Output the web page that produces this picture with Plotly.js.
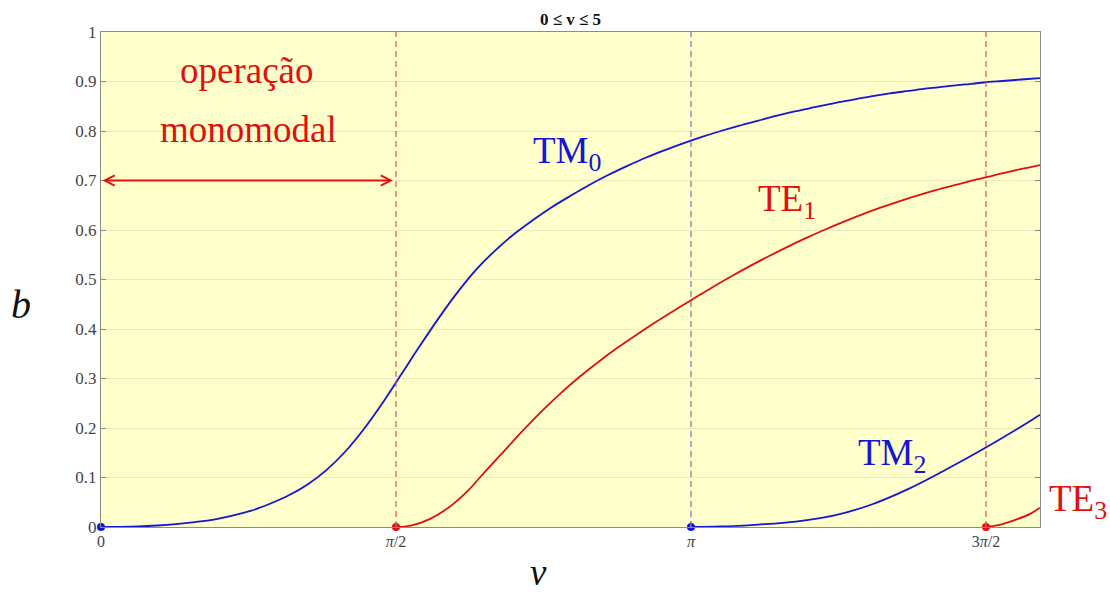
<!DOCTYPE html>
<html>
<head>
<meta charset="utf-8">
<script src="https://cdn.plot.ly/plotly-3.0.1.min.js"></script>
<style>
  html, body { margin: 0; padding: 0; background: #fff; }
  #chart { width: 1110px; height: 595px; }
</style>
</head>
<body>
<div id="chart"></div>
<script>
// Normalized propagation constant b versus normalized frequency v (slab guide modes)
const PI = Math.PI;

// Cutoff frequencies of the modes (also the x tick positions)
const cutoffs = [0, PI / 2, PI, 3 * PI / 2];
const cutoffLabels = ['0', '<i>π</i>/2', '<i>π</i>', '3<i>π</i>/2'];
const cutoffColors = ['#1515d6', '#e01010', '#1515d6', '#e01010'];

// TM0 mode
const tm0V = [0, 0.1, 0.2, 0.3, 0.4, 0.5, 0.6, 0.7, 0.8, 0.9, 1.0, 1.1, 1.2, 1.3, 1.4, 1.5, 1.6, 1.7, 1.8, 1.9, 2.0,
              2.1, 2.2, 2.3, 2.4, 2.5, 2.6, 2.7, 2.8, 2.9, 3.0, 3.1, 3.2, 3.3, 3.4, 3.5, 3.6, 3.7, 3.8, 3.9, 4.0,
              4.1, 4.2, 4.3, 4.4, 4.5, 4.6, 4.7, 4.8, 4.9, 5.0];
const tm0B = [0, 0.0002, 0.001, 0.003, 0.006, 0.010, 0.015, 0.023, 0.033, 0.047, 0.064, 0.086, 0.115, 0.152, 0.198, 0.251, 0.309, 0.367, 0.423, 0.475, 0.521,
              0.559, 0.592, 0.620, 0.646, 0.669, 0.691, 0.711, 0.729, 0.746, 0.761, 0.775, 0.788, 0.800, 0.811, 0.821, 0.831, 0.840, 0.848, 0.856, 0.863,
              0.870, 0.876, 0.881, 0.886, 0.890, 0.894, 0.898, 0.901, 0.904, 0.907];

// TE1 mode
const te1V = [1.5708, 1.65, 1.75, 1.85, 1.95, 2.05, 2.15, 2.25, 2.35, 2.45, 2.55, 2.65, 2.75, 2.85, 2.95, 3.05, 3.15, 3.25,
              3.35, 3.45, 3.55, 3.65, 3.75, 3.85, 3.95, 4.05, 4.15, 4.25, 4.35, 4.45, 4.55, 4.65, 4.75, 4.85, 4.95, 5.0];
const te1B = [0, 0.003, 0.016, 0.039, 0.072, 0.114, 0.155, 0.196, 0.235, 0.271, 0.304, 0.334, 0.362, 0.388, 0.413, 0.437, 0.460, 0.483,
              0.505, 0.526, 0.546, 0.565, 0.583, 0.600, 0.616, 0.631, 0.645, 0.658, 0.670, 0.681, 0.691, 0.701, 0.710, 0.719, 0.727, 0.731];

// TM2 mode
const tm2V = [3.1416, 3.3, 3.5, 3.7, 3.9, 4.1, 4.3, 4.5, 4.7, 4.9, 5.0];
const tm2B = [0, 0.001, 0.005, 0.011, 0.023, 0.045, 0.077, 0.116, 0.158, 0.203, 0.227];

// TE3 mode
const te3V = [4.712, 4.79, 4.88, 4.95, 5.0];
const te3B = [0, 0.005, 0.016, 0.027, 0.039];

// y tick labels
const yTicks = [0, 0.1, 0.2, 0.3, 0.4, 0.5, 0.6, 0.7, 0.8, 0.9, 1];
const yTickText = ['0', '0.1', '0.2', '0.3', '0.4', '0.5', '0.6', '0.7', '0.8', '0.9', '1'];

// Single-mode region marker height
const singleModeB = 0.7;

const BLUE = '#1515d6';
const RED = '#e01010';
const SERIF = 'Liberation Serif, Times New Roman, serif';

function curve(x, y, color) {
  return {
    x: x, y: y, type: 'scatter', mode: 'lines',
    line: { color: color, width: 1.8, shape: 'spline', smoothing: 1 },
    hoverinfo: 'skip', showlegend: false
  };
}

const traces = [
  curve(tm0V, tm0B, BLUE),
  curve(te1V, te1B, RED),
  curve(tm2V, tm2B, BLUE),
  curve(te3V, te3B, RED),
  {
    x: cutoffs, y: cutoffs.map(() => 0), type: 'scatter', mode: 'markers',
    marker: { color: cutoffColors, size: 8 },
    cliponaxis: false, hoverinfo: 'skip', showlegend: false
  }
];

// Dashed verticals at the cutoffs of TE1, TM2 and TE3
const dashColors = ['rgba(225,70,70,0.9)', 'rgba(110,110,175,0.95)', 'rgba(225,70,70,0.9)'];
const shapes = cutoffs.slice(1).map((c, i) => ({
  type: 'line', xref: 'x', yref: 'y', x0: c, x1: c, y0: 0, y1: 1,
  line: { color: dashColors[i], width: 1.2, dash: '6px,4px' }
}));

const labelFont = (color) => ({ family: SERIF, size: 37, color: color });

const annotations = [
  // double arrow marking the single-mode band
  {
    x: cutoffs[1], y: singleModeB, ax: cutoffs[0], ay: singleModeB,
    xref: 'x', yref: 'y', axref: 'x', ayref: 'y',
    text: '', showarrow: true, arrowside: 'end+start',
    arrowhead: 5, arrowsize: 1.1, arrowwidth: 1.8, arrowcolor: RED,
    standoff: 3, startstandoff: 0
  },
  { x: 0.778, y: 0.922, xref: 'x', yref: 'y', text: 'operação', showarrow: false, font: labelFont(RED) },
  { x: 0.785, y: 0.803, xref: 'x', yref: 'y', text: 'monomodal', showarrow: false, font: labelFont(RED) },
  { x: 2.29, y: 0.754, xref: 'x', yref: 'y', xanchor: 'left', yanchor: 'middle', text: 'TM<sub>0</sub>', showarrow: false, font: labelFont(BLUE) },
  { x: 3.486, y: 0.657, xref: 'x', yref: 'y', xanchor: 'left', yanchor: 'middle', text: 'TE<sub>1</sub>', showarrow: false, font: labelFont(RED) },
  { x: 4.019, y: 0.145, xref: 'x', yref: 'y', xanchor: 'left', yanchor: 'middle', text: 'TM<sub>2</sub>', showarrow: false, font: labelFont(BLUE) },
  { x: 1.0071, y: 0.051, xref: 'paper', yref: 'paper', xanchor: 'left', yanchor: 'middle', text: 'TE<sub>3</sub>', showarrow: false, font: labelFont(RED) },
  // axis names
  { x: -0.085, y: 0.45, xref: 'paper', yref: 'paper', xanchor: 'center', yanchor: 'middle', text: '<i>b</i>', showarrow: false, font: { family: SERIF, size: 40, color: '#111' } },
  { x: 0.4654, y: -0.1365, xref: 'paper', yref: 'paper', xanchor: 'center', yanchor: 'bottom', text: '<i>v</i>', showarrow: false, font: { family: SERIF, size: 37, color: '#111' } }
];

const layout = {
  width: 1110, height: 595,
  margin: { l: 101, r: 70, t: 32, b: 68, pad: 0 },
  paper_bgcolor: '#ffffff',
  plot_bgcolor: '#ffffcc',
  title: {
    text: '<b>0 ≤ v ≤ 5</b>',
    font: { family: SERIF, size: 17, color: '#111' },
    x: 0.514, xanchor: 'center', y: 0.968, yanchor: 'middle', yref: 'container'
  },
  xaxis: {
    range: [0, 5], tickvals: cutoffs, ticktext: cutoffLabels,
    ticks: 'inside', ticklen: 5, tickcolor: '#888',
    showline: true, linecolor: '#8c8c8c', linewidth: 1.2, mirror: true,
    showgrid: false, zeroline: false,
    tickfont: { family: SERIF, size: 16, color: '#444' }
  },
  yaxis: {
    range: [0, 1], tickvals: yTicks, ticktext: yTickText,
    ticks: 'inside', ticklen: 5, tickcolor: '#888',
    showline: true, linecolor: '#8c8c8c', linewidth: 1.2, mirror: 'ticks',
    showgrid: true, gridcolor: '#ece9c2', gridwidth: 1, zeroline: false,
    tickfont: { family: SERIF, size: 17, color: '#444' }
  },
  shapes: shapes,
  annotations: annotations,
  showlegend: false
};

Plotly.newPlot('chart', traces, layout, { staticPlot: true, displayModeBar: false });
</script>
</body>
</html>
